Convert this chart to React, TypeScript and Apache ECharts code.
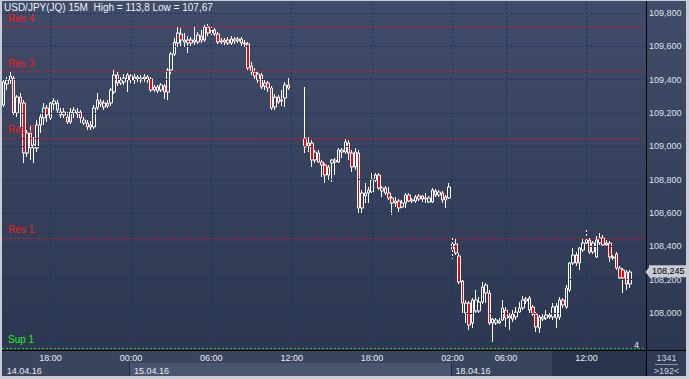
import React, { useEffect, useRef } from "react";
import * as echarts from "echarts";

const titleText = "USD/JPY(JQ) 15M  High = 113,8 Low = 107,67";
const barCount = 192;
const mondayStartIndex = 134;

// [open, close, low, high]; null = no bar
const candles: (number[] | null)[] = [
  [109.247, 109.385, 109.235, 109.403], [109.373, 109.397, 109.337, 109.415], [109.397, 109.421, 109.373, 109.445],
  [109.409, 109.199, 109.187, 109.421], [109.199, 109.295, 109.175, 109.307], [109.295, 109.259, 109.115, 109.319],
  [109.259, 108.959, 108.899, 109.277], [108.959, 109.079, 108.935, 109.097], [109.079, 108.989, 108.917, 109.127],
  [108.989, 109.007, 108.899, 109.055], [108.989, 109.127, 108.965, 109.157], [109.127, 109.175, 109.079, 109.193],
  [109.169, 109.229, 109.127, 109.259], [109.229, 109.187, 109.145, 109.247], [109.169, 109.259, 109.157, 109.277],
  [109.253, 109.271, 109.217, 109.289], [109.217, 109.259, 109.199, 109.277], [109.205, 109.187, 109.169, 109.229],
  [109.187, 109.205, 109.169, 109.229], [109.175, 109.145, 109.133, 109.205], [109.145, 109.205, 109.133, 109.229],
  [109.199, 109.217, 109.169, 109.235], [109.205, 109.193, 109.169, 109.229], [109.205, 109.169, 109.139, 109.217],
  [109.139, 109.157, 109.127, 109.175], [109.139, 109.115, 109.097, 109.157], [109.115, 109.127, 109.097, 109.151],
  [109.115, 109.229, 109.103, 109.247], [109.229, 109.277, 109.217, 109.319], [109.265, 109.253, 109.235, 109.283],
  [109.235, 109.259, 109.217, 109.277], [109.259, 109.241, 109.229, 109.277], [109.259, 109.337, 109.241, 109.349],
  [109.325, 109.427, 109.313, 109.457], [109.427, 109.379, 109.361, 109.445], [109.379, 109.397, 109.367, 109.415],
  [109.385, 109.409, 109.367, 109.433], [109.397, 109.427, 109.325, 109.439], [109.421, 109.397, 109.379, 109.433],
  [109.397, 109.415, 109.373, 109.433], [109.403, 109.415, 109.385, 109.427],
  // 41
  [109.397, 109.409, 109.379, 109.427], [109.403, 109.415, 109.385, 109.433], [109.415, 109.397, 109.379, 109.427],
  [109.403, 109.337, 109.325, 109.415], [109.337, 109.355, 109.325, 109.367], [109.355, 109.331, 109.319, 109.367],
  [109.337, 109.367, 109.325, 109.379], [109.361, 109.325, 109.283, 109.373], [109.325, 109.457, 109.277, 109.469],
  [109.457, 109.553, 109.433, 109.565], [109.553, 109.625, 109.541, 109.649], [109.619, 109.679, 109.595, 109.715],
  [109.673, 109.637, 109.601, 109.709], [109.637, 109.625, 109.595, 109.679], [109.619, 109.637, 109.559, 109.661],
  [109.637, 109.619, 109.595, 109.655], [109.625, 109.637, 109.607, 109.715], [109.625, 109.667, 109.613, 109.685],
  [109.661, 109.637, 109.619, 109.697], [109.637, 109.715, 109.625, 109.727], [109.715, 109.679, 109.661, 109.733],
  [109.679, 109.697, 109.667, 109.721], [109.697, 109.673, 109.661, 109.709], [109.673, 109.625, 109.613, 109.685],
  [109.625, 109.631, 109.613, 109.649], [109.625, 109.637, 109.607, 109.649], [109.637, 109.619, 109.607, 109.655],
  [109.619, 109.643, 109.607, 109.661], [109.643, 109.631, 109.613, 109.655], [109.631, 109.643, 109.619, 109.655],
  [109.643, 109.619, 109.601, 109.655], [109.619, 109.613, 109.595, 109.637], [109.613, 109.469, 109.457, 109.625],
  [109.481, 109.445, 109.427, 109.505], [109.445, 109.421, 109.397, 109.469], [109.397, 109.433, 109.379, 109.445],
  [109.427, 109.355, 109.343, 109.439], [109.361, 109.379, 109.337, 109.397], [109.379, 109.349, 109.325, 109.391],
  [109.349, 109.229, 109.217, 109.361], [109.235, 109.295, 109.217, 109.313], [109.295, 109.265, 109.253, 109.307],
  [109.271, 109.277, 109.241, 109.337], [109.289, 109.367, 109.235, 109.385], [109.367, 109.349, 109.337, 109.409],
  // 86-89 missing
  null, null, null, null,
  // 90
  [109.049, 108.995, 108.959, 109.355], [109.001, 109.019, 108.965, 109.055], [109.019, 108.917, 108.875, 109.037],
  [108.917, 108.965, 108.899, 108.977], [108.959, 108.905, 108.899, 108.977], [108.905, 108.887, 108.815, 108.917],
  [108.887, 108.827, 108.779, 108.899], [108.827, 108.875, 108.797, 108.887], [108.899, 108.917, 108.785, 108.923],
  [108.905, 108.917, 108.827, 108.929], [108.905, 108.977, 108.899, 108.989], [108.977, 108.965, 108.929, 108.989],
  [108.965, 109.025, 108.953, 109.043], [109.019, 108.959, 108.917, 109.037], [108.959, 108.875, 108.845, 108.977],
  [108.875, 108.965, 108.857, 108.989], [108.959, 108.629, 108.599, 108.977], [108.629, 108.719, 108.599, 108.737],
  [108.701, 108.719, 108.659, 108.779], [108.719, 108.737, 108.659, 108.755], [108.725, 108.797, 108.719, 108.839],
  [108.797, 108.827, 108.785, 108.839], [108.827, 108.749, 108.737, 108.839], [108.731, 108.749, 108.695, 108.761],
  [108.749, 108.719, 108.707, 108.761], [108.719, 108.689, 108.677, 108.755], [108.689, 108.659, 108.587, 108.701],
  [108.659, 108.671, 108.635, 108.695], [108.671, 108.629, 108.605, 108.683], [108.635, 108.659, 108.629, 108.677],
  [108.659, 108.707, 108.629, 108.719], [108.707, 108.671, 108.665, 108.719], [108.671, 108.677, 108.659, 108.689],
  [108.671, 108.695, 108.659, 108.707], [108.701, 108.683, 108.671, 108.713], [108.701, 108.683, 108.665, 108.707],
  [108.683, 108.689, 108.659, 108.719], [108.665, 108.689, 108.659, 108.701], [108.665, 108.737, 108.659, 108.749],
  [108.731, 108.707, 108.695, 108.743], [108.707, 108.725, 108.695, 108.737], [108.719, 108.677, 108.659, 108.731],
  [108.677, 108.695, 108.629, 108.707], [108.689, 108.755, 108.683, 108.779],
  // 134 (Monday)
  [108.383, 108.413, 108.323, 108.455], [108.413, 108.359, 108.347, 108.449], [108.341, 108.185, 108.173, 108.359],
  [108.191, 108.059, 107.999, 108.203], [107.999, 108.059, 107.939, 108.077], [108.059, 107.927, 107.897, 108.071],
  [107.939, 108.077, 107.909, 108.089], [108.011, 108.077, 107.999, 108.137], [108.011, 108.065, 107.993, 108.095],
  [108.065, 108.155, 108.053, 108.185], [108.119, 108.167, 108.059, 108.179], [108.119, 107.939, 107.927, 108.137],
  [107.939, 107.963, 107.825, 107.969], [107.939, 107.957, 107.927, 107.969], [107.939, 107.951, 107.933, 107.969],
  [107.957, 108.029, 107.951, 108.077], [108.017, 107.969, 107.915, 108.035], [107.969, 107.981, 107.897, 107.999],
  [107.993, 107.963, 107.945, 108.017], [107.975, 108.005, 107.957, 108.035], [108.005, 108.029, 107.993, 108.065],
  [108.029, 108.077, 108.017, 108.101], [108.083, 108.071, 108.053, 108.095], [108.017, 108.089, 107.999, 108.101],
  [108.035, 107.993, 107.981, 108.047], [107.993, 107.915, 107.885, 108.005], [107.909, 107.975, 107.879, 107.987],
  [107.963, 107.975, 107.951, 107.993], [107.969, 107.987, 107.957, 108.017], [107.987, 107.975, 107.963, 107.999],
  [107.975, 108.035, 107.957, 108.059], [107.969, 108.041, 107.909, 108.059], [107.975, 108.077, 107.957, 108.095],
  [108.077, 108.047, 108.029, 108.089], [108.035, 108.149, 108.023, 108.167], [108.137, 108.299, 108.125, 108.305],
  [108.299, 108.347, 108.287, 108.389], [108.347, 108.299, 108.281, 108.365], [108.299, 108.389, 108.257, 108.401],
  [108.377, 108.419, 108.365, 108.449], [108.419, 108.437, 108.407, 108.497], [108.437, 108.365, 108.353, 108.449],
  [108.365, 108.419, 108.353, 108.431], [108.335, 108.437, 108.329, 108.461], [108.419, 108.449, 108.407, 108.479],
  [108.449, 108.407, 108.395, 108.467], [108.419, 108.407, 108.395, 108.437], [108.419, 108.335, 108.305, 108.431],
  [108.329, 108.335, 108.317, 108.347], [108.353, 108.269, 108.257, 108.365], [108.269, 108.209, 108.197, 108.281],
  [108.257, 108.209, 108.119, 108.269], [108.245, 108.173, 108.137, 108.257], [108.173, 108.245, 108.149, 108.257],
];

const priceTicks = [108.0, 108.2, 108.4, 108.6, 108.8, 109.0, 109.2, 109.4, 109.6, 109.8];
const timeTickIndex = [14, 38, 62, 86, 110, 134, 150, 174];
const timeTickLabels = ["18:00", "00:00", "06:00", "12:00", "18:00", "02:00", "06:00", "12:00"];
const dateTickIndex = [0, 38, 134];
const dateLabels = ["14.04.16", "15.04.16", "18.04.16"];
const levelNames = ["Res 4", "Res 3", "Res 2", "Res 1", "Sup 1"];
const levelValues = [109.721, 109.447, 109.047, 108.447, 107.789];
const lastPrice = 108.245;
const totalBars = "1341";
const visibleBars = ">192<";
const yMin = 107.777;
const yMax = 109.871;

function makeCategories(): string[] {
  const out: string[] = [];
  const pad = (n: number) => String(n).padStart(2, "0");
  for (let i = 0; i < barCount; i++) {
    let day: number;
    let mins: number;
    if (i < mondayStartIndex) {
      mins = 14 * 60 + 30 + 15 * i;
      day = 14;
    } else {
      mins = 2 * 60 + 15 * (i - mondayStartIndex);
      day = 18;
    }
    day += Math.floor(mins / 1440);
    mins = mins % 1440;
    out.push(`${pad(day)}.04.16 ${pad(Math.floor(mins / 60))}:${pad(mins % 60)}`);
  }
  return out;
}

const fmtPrice = (v: number) => v.toFixed(3).replace(".", ",");

export default function App() {
  const ref = useRef<HTMLDivElement>(null);
  useEffect(() => {
    document.body.style.margin = "0";
    if (!ref.current) return;
    const chart = echarts.init(ref.current, undefined, { renderer: "svg" });
    const categories = makeCategories();
    const font = "Liberation Sans, Arial, sans-serif";
    const gridColor = "#1b3262";
    const red = "#ff1414";
    const green = "#22ee22";
    const light = "#e6eaf0";
    const boxGray = "#c9ccd4";

    const baseGraphics: any[] = [
      {
        type: "rect",
        z: -10,
        silent: true,
        shape: { x: 2, y: 1, width: 684, height: 349 },
        style: {
          fill: new echarts.graphic.LinearGradient(0, 0, 0, 1, [
            { offset: 0, color: "#404c69" },
            { offset: 1, color: "#2c3751" },
          ]),
        },
      },
      { type: "rect", z: -10, silent: true, shape: { x: 2, y: 350, width: 644, height: 26 }, style: { fill: "#39455f" } },
      { type: "rect", z: -9, silent: true, shape: { x: 130, y: 363, width: 321, height: 13 }, style: { fill: "#4a5670" } },
      { type: "rect", z: -9, silent: true, shape: { x: 552, y: 351, width: 94, height: 25 }, style: { fill: "#2a354d" } },
      { type: "rect", z: -10, silent: true, shape: { x: 647, y: 351, width: 39, height: 25 }, style: { fill: "#303b55" } },
      { type: "line", z: 50, silent: true, shape: { x1: 646.5, y1: 1, x2: 646.5, y2: 376 }, style: { stroke: "#000000", lineWidth: 1 } },
      { type: "line", z: 50, silent: true, shape: { x1: 2, y1: 350.5, x2: 686, y2: 350.5 }, style: { stroke: "#000000", lineWidth: 1 } },
      { type: "line", z: 50, silent: true, shape: { x1: 655, y1: 364.5, x2: 678, y2: 364.5 }, style: { stroke: "#8a94a6", lineWidth: 1 } },
      {
        type: "text",
        z: 50,
        silent: true,
        x: 4,
        y: 2,
        style: { text: titleText, fill: "#eef1f6", font: `10px ${font}` },
      },
      {
        type: "text",
        z: 50,
        silent: true,
        x: 634,
        y: 340,
        style: { text: "4", fill: "#e6e9ef", font: `9px ${font}` },
      },
      {
        type: "text",
        z: 50,
        silent: true,
        x: 666.5,
        y: 353,
        style: { text: totalBars, fill: "#c9d2e0", font: `9px ${font}`, textAlign: "center" },
      },
      {
        type: "text",
        z: 50,
        silent: true,
        x: 666.5,
        y: 366,
        style: { text: visibleBars, fill: "#c9d2e0", font: `9px ${font}`, textAlign: "center" },
      },
    ];

    const option: any = {
      animation: false,
      backgroundColor: boxGray,
      textStyle: { fontFamily: font },
      grid: { left: 2, top: 1, width: 643, height: 349, containLabel: false },
      xAxis: [
        {
          type: "category",
          data: categories,
          boundaryGap: true,
          axisLine: { show: false },
          axisTick: { show: false },
          splitLine: { show: false },
          axisLabel: {
            interval: (i: number) => timeTickIndex.includes(i),
            formatter: (_v: string, i: number) => {
              const k = timeTickIndex.indexOf(i);
              return k >= 0 ? timeTickLabels[k] : "";
            },
            color: (_v: any, i: number) => (i === 174 ? "#6b768c" : light),
            fontSize: 9,
            margin: 3,
            fontFamily: font,
          },
        },
        {
          type: "category",
          data: categories,
          position: "bottom",
          offset: 13,
          boundaryGap: true,
          axisLine: { show: false },
          splitLine: { show: false },
          axisTick: {
            show: true,
            interval: (i: number) => i === 38 || i === 134,
            length: 13,
            lineStyle: { color: "#1f2a42", width: 1 },
          },
          axisLabel: {
            interval: (i: number) => dateTickIndex.includes(i),
            formatter: (_v: string, i: number) => {
              const k = dateTickIndex.indexOf(i);
              return k >= 0 ? dateLabels[k] : "";
            },
            align: "left",
            padding: [0, 0, 0, 3],
            color: light,
            fontSize: 9,
            margin: 3,
            fontFamily: font,
          },
        },
      ],
      yAxis: {
        type: "value",
        min: yMin,
        max: yMax,
        scale: true,
        axisLine: { show: false },
        axisTick: { show: false },
        axisLabel: { show: false },
        splitLine: { show: false },
      },
      series: [
        {
          type: "line",
          data: [],
          z: 1,
          silent: true,
          markLine: {
            silent: true,
            animation: false,
            symbol: ["none", "none"],
            lineStyle: { color: gridColor, type: [2, 2], width: 1 },
            label: { show: false },
            data: [
              ...priceTicks.map((v) => ({
                yAxis: v,
                label: {
                  show: true,
                  position: "end",
                  formatter: fmtPrice(v),
                  color: "#dde2ea",
                  fontSize: 9,
                  distance: 4,
                  fontFamily: font,
                },
              })),
              ...timeTickIndex.map((i) => ({ xAxis: i, label: { show: false } })),
            ],
          },
        },
        {
          type: "line",
          data: [],
          z: 2,
          silent: true,
          markLine: {
            silent: true,
            animation: false,
            symbol: ["none", "none"],
            data: levelValues.map((v, k) => {
              const c = levelNames[k].startsWith("Sup") ? green : red;
              return {
                yAxis: v,
                lineStyle: { color: levelNames[k].startsWith("Sup") ? "#18d418" : "#d81818", type: [2, 2], width: 1 },
                label: {
                  show: true,
                  position: "insideStartTop",
                  formatter: levelNames[k],
                  color: c,
                  fontSize: 10,
                  distance: [6, 3],
                  fontFamily: font,
                },
              };
            }),
          },
        },
        {
          type: "candlestick",
          z: 3,
          barWidth: 3,
          data: candles.map((c) => (c ? c : ["-", "-", "-", "-"])),
          itemStyle: {
            color: "rgba(0,0,0,0)",
            color0: "#ff0000",
            borderColor: "#ffffff",
            borderColor0: "#ffffff",
            borderColorDoji: "#ffffff",
            borderWidth: 1,
          },
        },
        {
          type: "line",
          data: [],
          z: 6,
          silent: true,
          markLine: {
            silent: true,
            animation: false,
            symbol: ["none", "none"],
            data: [
              {
                yAxis: lastPrice,
                lineStyle: { color: "rgba(0,0,0,0)", width: 1 },
                label: {
                  show: true,
                  position: "end",
                  formatter: fmtPrice(lastPrice),
                  backgroundColor: boxGray,
                  color: "#000000",
                  padding: [2, 2, 1, 3],
                  fontSize: 9,
                  distance: 4,
                  fontFamily: font,
                  opacity: 1,
                },
              },
            ],
          },
        },
      ],
      graphic: baseGraphics,
    };
    chart.setOption(option);

    // small arrow tip of the last-price box, placed through the y scale
    const py = chart.convertToPixel({ yAxisIndex: 0 }, lastPrice) as number;
    if (typeof py === "number" && isFinite(py)) {
      chart.setOption({
        graphic: [
          ...baseGraphics,
          {
            type: "polygon",
            z: 60,
            silent: true,
            shape: { points: [[645.5, py], [650, py - 6], [650, py + 6]] },
            style: { fill: boxGray },
          },
        ],
      });
    }
    return () => chart.dispose();
  }, []);
  return <div ref={ref} style={{ width: 689, height: 379 }} />;
}
